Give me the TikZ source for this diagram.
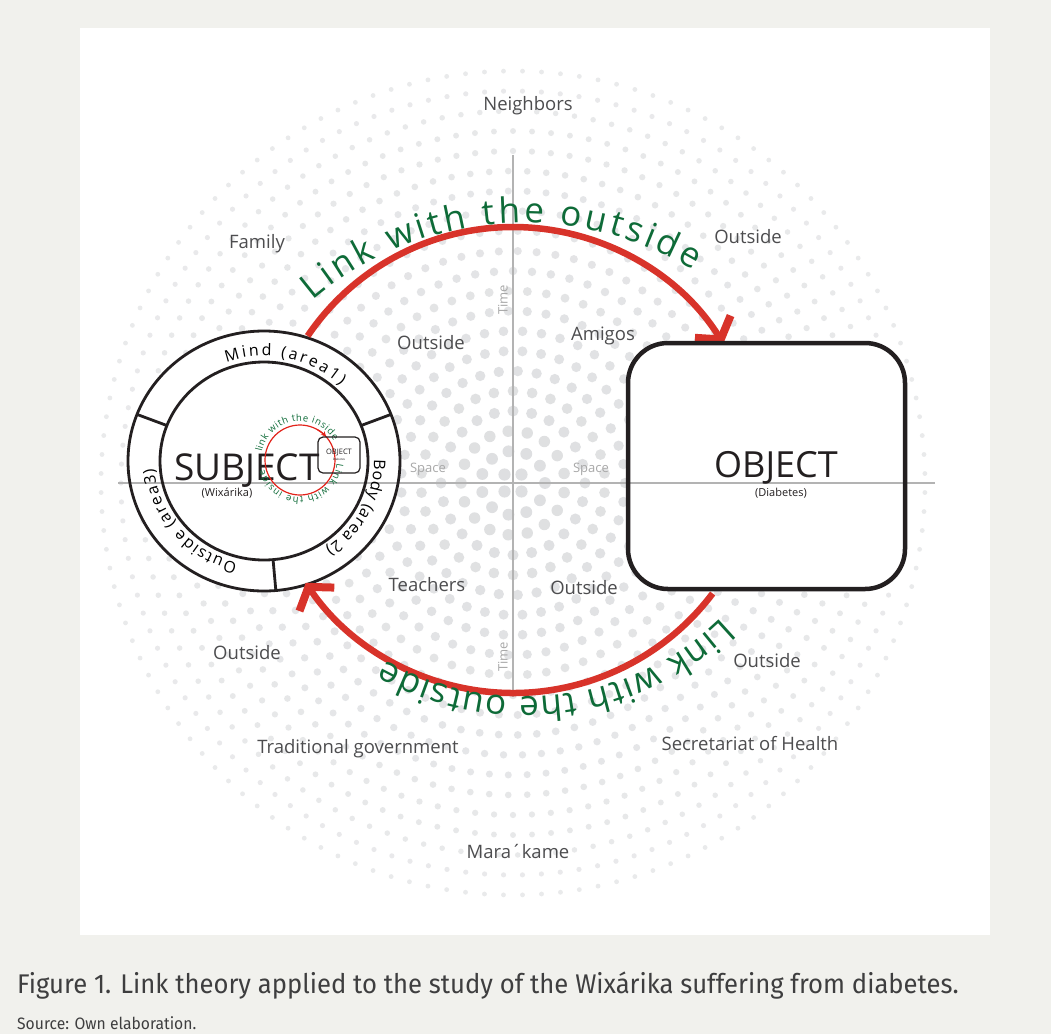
\documentclass[tikz,border=0pt]{standalone}
\usepackage{fontspec}
\setmainfont{Open Sans}
\newfontfamily\capfont[FakeStretch=0.95]{Fira Sans}
\usetikzlibrary{arrows.meta,decorations.text,calc}

\definecolor{bggray}{HTML}{F1F1ED}
\definecolor{dotgray}{HTML}{DDDEE0}
\definecolor{axisgray}{HTML}{B3B3B3}
\definecolor{labelgray}{HTML}{4D4D4F}
\definecolor{faintgray}{HTML}{A8A8A8}
\definecolor{linkred}{HTML}{D8332A}
\definecolor{innerred}{HTML}{E2231A}
\definecolor{linkgreen}{HTML}{0E6B38}
\definecolor{inkblack}{HTML}{231F20}

\tikzset{
  lbl/.style={text=labelgray, font=\fontsize{18.5}{21}\selectfont},
  faint/.style={text=faintgray, font=\fontsize{13}{15}\selectfont},
  ringline/.style={draw=inkblack, line width=2.8pt},
  linkarc/.style={draw=linkred, line width=6.5pt,
    -{Straight Barb[length=15pt,width=42pt,line width=8pt]}},
  axisline/.style={draw=axisgray, line width=1.5pt},
  objbox/.style={draw=inkblack, line width=4.5pt, rounded corners=40pt,
    minimum width=277pt, minimum height=246pt},
}

\begin{document}
\begin{tikzpicture}[x=1pt,y=1pt]
    \fill[bggray] (0,0) rectangle (1051,-1034);
    \useasboundingbox (0,0) rectangle (1051,-1034);
    \fill[white] (80,-28) rectangle (990,-935);

    % halftone
    \coordinate (mid) at (513,-483);
    \foreach \k in {1,...,21}{
        \pgfmathsetmacro\rr{20*\k-8}
        \pgfmathtruncatemacro\nn{round(2*pi*\rr/19)}
        \pgfmathsetmacro\dr{6.2-3.8*\rr/412}
        \pgfmathtruncatemacro\shade{100-35*\rr/412}
        \pgfmathsetmacro\da{360/\nn}
        \pgfmathsetmacro\ofs{0.5*mod(\k,2)}
        \foreach \i in {1,...,\nn}
            \fill[dotgray!\shade!white] (mid) ++({\da*(\i+\ofs)}:\rr) circle[radius=\dr];
    }

    \coordinate (subj) at (264,-461);
    \fill[white, shift={(subj)}] (0,0) ellipse[x radius=136, y radius=130];
    \fill[white, rounded corners=40pt] (628,-343) rectangle (905,-589);

    % time and space
    \coordinate (xl) at (118,-483);
    \coordinate (xr) at (935,-483);
    \coordinate (yt) at (513,-155);
    \coordinate (yb) at (513,-697);
    \draw[axisline] (xl) -- (xr);
    \draw[axisline] (yt) -- (yb);
    \node[faint, rotate=90] (time1) at (503,-300) {Time};
    \node[faint, rotate=90] (time2) at (503,-657) {Time};
    \node[faint] (space1) at (428,-469) {Space};
    \node[faint] (space2) at (591,-469) {Space};

    \node[lbl] (neigh) at (528,-106) {Neighbors};
    \node[lbl] (family) at (257,-244) {Family};
    \node[lbl] (out1) at (748,-237) {Outside};
    \node[lbl] (out2) at (431,-343) {Outside};
    \node[lbl] (amigos) at (603,-336) {Amigos};
    \node[lbl] (teach) at (427,-585) {Teachers};
    \node[lbl] (out3) at (584,-588) {Outside};
    \node[lbl] (out4) at (247,-653) {Outside};
    \node[lbl] (out5) at (767,-661) {Outside};
    \node[lbl] (tradgov) at (358,-749) {Traditional government};
    \node[lbl] (health) at (750,-743) {Secretariat of Health};
    \node[lbl] (marakame) at (518,-851) {Mara´kame};

    % subject
    \draw[ringline, shift={(subj)}] (0,0) ellipse[x radius=136, y radius=130]
        (0,0) ellipse[x radius=104, y radius=99];
    \foreach \a in {159,21,-85}
        \draw[ringline, shift={(subj)}] (\a:104 and 99) -- (\a:136 and 130);
    \path[shift={(subj)}, decorate, decoration={text along path, text align={fit to path},
        text={|\fontsize{16}{16}\selectfont|Mind (area1)}}]
        (110:110 and 105) arc[start angle=110, end angle=46, x radius=110, y radius=105];
    \path[shift={(subj)}, decorate, decoration={text along path, text align={fit to path},
        text={|\fontsize{16}{16}\selectfont|Body (area 2)}}]
        (1:110 and 105) arc[start angle=1, end angle=-56, x radius=110, y radius=105];
    \path[shift={(subj)}, decorate, decoration={text along path, text align={fit to path},
        text={|\fontsize{16}{16}\selectfont|Outside (area3)}}]
        (-104:110 and 105) arc[start angle=-104, end angle=-176, x radius=110, y radius=105];
    \node[anchor=base, text=inkblack, font=\fontsize{37}{40}\selectfont] (subjtxt) at (247,-480) {SUBJECT};
    \node[text=inkblack, font=\fontsize{11}{12}\selectfont] (wixa) at (227,-493) {(Wixárika)};

    % link with the inside
    \coordinate (inc) at (300,-460);
    \draw[innerred, line width=1.2pt, shift={(inc)}] (0,0) circle[radius=35];
    \draw[innerred, line width=1.2pt, -{Stealth[length=5pt,width=5pt]}, shift={(inc)}]
        (60:35) arc[start angle=60, end angle=42, radius=35];
    \path[shift={(inc)}, decorate, decoration={text along path, text align={fit to path},
        text={|\fontsize{9.5}{9.5}\selectfont\color{linkgreen}|link with the inside}}]
        (168:39) arc[start angle=168, end angle=30, radius=39];
    \path[shift={(inc)}, decorate, decoration={text along path, text align={fit to path},
        text={|\fontsize{9.5}{9.5}\selectfont\color{linkgreen}|Link with the inside}}]
        (-6:37) arc[start angle=-6, end angle=-165, radius=37];
    \node[draw=inkblack, line width=1.2pt, rounded corners=5pt, minimum width=42pt,
        minimum height=36pt] (smallobj) at (339,-455) {};
    \node[text=inkblack, font=\fontsize{7.5}{8}\selectfont, inner sep=0pt] (smallobjtxt) at (339,-452) {OBJECT};
    \node[text=inkblack, font=\fontsize{3}{3}\selectfont, inner sep=0pt] (smalldiab) at (339,-459) {Diabetes};

    % link with the outside
    \coordinate (upstart) at ($(513,-475)+(145.9:248)$);
    \draw[linkarc] (upstart) arc[start angle=145.9, end angle=32, radius=248];
    \coordinate (lostart) at ($(513,-443)+(-37:250)$);
    \draw[linkarc] (lostart) arc[start angle=-37, end angle=-146, radius=250];
    \path[shift={(524,-550)}, decorate, decoration={text along path,
        text align={fit to path},
        text={|\fontsize{35}{35}\selectfont\color{linkgreen}|Link with the outside}}]
        (130.2:327) arc[start angle=130.2, end angle=58.9, radius=327];
    \path[shift={(525,-414)}, decorate, decoration={text along path,
        text align={fit to path},
        text={|\fontsize{35}{35}\selectfont\color{linkgreen}|Link with the outside}}]
        (-46:283) arc[start angle=-46, end angle=-119.6, radius=283];

    % object
    \node[objbox] (obj) at (766.5,-466) {};
    \node[anchor=base, text=inkblack, font=\fontsize{36}{38}\selectfont] (objtxt) at (776,-477) {OBJECT};
    \node[text=inkblack, font=\fontsize{11}{12}\selectfont] (diab) at (781,-493) {(Diabetes)};

    % caption
    \node[anchor=base west, text=labelgray!80!black, font=\capfont\fontsize{27}{30}\selectfont, inner sep=0pt]
        (caption) at (17,-993) {Figure 1. Link theory applied to the study of the Wixárika suffering from diabetes.};
    \node[anchor=base west, text=labelgray!80!black, font=\capfont\fontsize{16.5}{18}\selectfont, inner sep=0pt]
        (source) at (17,-1029) {Source: Own elaboration.};
\end{tikzpicture}
\end{document}
